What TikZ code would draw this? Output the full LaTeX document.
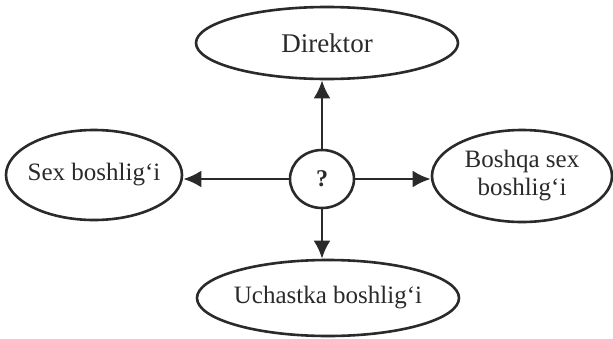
\documentclass[tikz,border=0pt]{standalone}
\usepackage{fontspec}
\setmainfont{Liberation Serif}
\usetikzlibrary{shapes.geometric,arrows.meta}
\definecolor{ink}{HTML}{2A2A2A}
\begin{document}
\begin{tikzpicture}[x=1pt,y=-1pt,
  role/.style={ellipse,draw=ink,line width=2.6pt,inner sep=-30pt,
    text=ink,font=\fontsize{25}{28}\selectfont,align=center},
  link/.style={draw=ink,line width=2.8pt,-{Latex[length=18pt,width=17pt]}}]
  \fill[white] (0,0) rectangle (613,338);
  \useasboundingbox (0,0) rectangle (613,338);

  \node[role,minimum width=262pt,minimum height=72pt,font=\fontsize{27}{30}\selectfont] (dir) at (327,43) {Direktor};
  \node[role,minimum width=176pt,minimum height=90pt] (sex) at (94,175) {Sex boshlig‘i};
  \node[role,minimum width=180pt,minimum height=92pt] (other) at (522,176) {Boshqa sex\\boshlig‘i};
  \node[role,minimum width=262pt,minimum height=76pt] (uch) at (328,298) {Uchastka boshlig‘i};
  \node[role,minimum width=64pt,minimum height=58pt,font=\fontsize{24}{28}\selectfont\bfseries] (q) at (322,179) {?};

  \draw[link] (q.north) -- (q.north |- dir.south);
  \draw[link] (q.south) -- (q.south |- uch.north);
  \draw[link] (q.west) -- (q.west -| sex.east);
  \draw[link] (q.east) -- (q.east -| other.west);
\end{tikzpicture}
\end{document}
